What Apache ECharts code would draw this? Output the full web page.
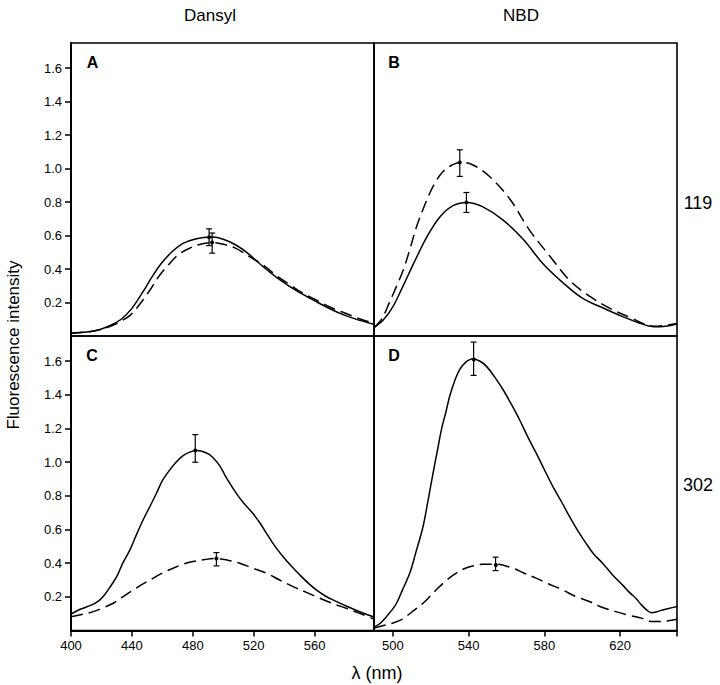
<!DOCTYPE html>
<html><head><meta charset="utf-8">
<script src="https://cdn.jsdelivr.net/npm/echarts@6/dist/echarts.min.js"></script>
<style>html,body{margin:0;padding:0;background:#fff}#c{width:720px;height:685px}</style>
</head><body><div id="c"></div>
<script>
// ---- tick labels ----
const yTicks = [0.2, 0.4, 0.6, 0.8, 1.0, 1.2, 1.4, 1.6];
const xTicksDansyl = [400, 440, 480, 520, 560];
const xTicksNBD = [500, 540, 580, 620];
const columnTitles = ['Dansyl', 'NBD'];
const rowLabels = ['119', '302'];
const panelLetters = ['A', 'B', 'C', 'D'];

// ---- Panel A (Dansyl, 119) ----
const A_solid_nm  = [400,415,425,433,440,447,453,459,466,473,480,487,493,500,508,516,526,535,543,552,561,570,580,589,599];
const A_solid_val = [0.017,0.03,0.06,0.1,0.165,0.26,0.35,0.43,0.5,0.55,0.575,0.588,0.591,0.578,0.545,0.495,0.415,0.35,0.3,0.25,0.205,0.163,0.123,0.095,0.07];
const A_dash_nm   = [400,415,425,432,439,446,452,458,465,471,478,485,493,500,508,517,526,535,544,552,561,570,579,589,599];
const A_dash_val  = [0.017,0.03,0.055,0.085,0.125,0.2,0.276,0.36,0.435,0.49,0.525,0.548,0.558,0.548,0.525,0.475,0.425,0.36,0.305,0.257,0.215,0.173,0.14,0.105,0.075];
// error bars: [nm, low, high, centre]
const A_err = [[490.7,0.54,0.64,0.59],[492.7,0.495,0.615,0.558]];

// ---- Panel B (NBD, 119) ----
const B_solid_nm  = [490,495,500,505,511,518,525,532,539,547,558,569,579,590,600,611,621,630,635,641,645,650];
const B_solid_val = [0.05,0.097,0.176,0.29,0.435,0.594,0.714,0.78,0.798,0.774,0.694,0.575,0.435,0.316,0.226,0.167,0.117,0.078,0.06,0.055,0.06,0.072];
const B_dash_nm   = [490,494,498,502,505.5,509,512.5,516,519.5,523,526.5,531,535.3,542,551,562,572,583,593,604,616,626,633,637,643,650];
const B_dash_val  = [0.05,0.1,0.196,0.3,0.395,0.52,0.654,0.76,0.854,0.93,0.983,1.02,1.037,1.023,0.953,0.814,0.634,0.475,0.336,0.236,0.157,0.107,0.07,0.058,0.062,0.075];
const B_err = [[535.3,0.953,1.112,1.037],[538.8,0.738,0.857,0.798]];

// ---- Panel C (Dansyl, 302) ----
const C_solid_nm  = [400,406,413.6,418,421,425,430,434,438.7,443,447.4,452,456.2,460,465,469,473.6,478,482.4,489,493,497.7,502,506.4,510,513,516.5,519.5,524,528.3,534,539.2,545,550.2,556,561.1,567,572,582.6,590,599];
const C_solid_val = [0.098,0.126,0.152,0.175,0.2,0.25,0.32,0.4,0.479,0.57,0.658,0.74,0.817,0.89,0.956,1.0,1.039,1.06,1.069,1.055,1.03,0.978,0.908,0.845,0.797,0.762,0.726,0.695,0.64,0.579,0.5,0.44,0.38,0.331,0.28,0.241,0.205,0.182,0.138,0.11,0.08];
const C_dash_nm   = [400,407,414.6,421,427.7,434,440.9,447,454,460,467.1,474,480.2,488,495.5,503,510.8,519,528.3,537,545.8,555,563.3,572,580.8,590,599];
const C_dash_val  = [0.082,0.095,0.112,0.135,0.162,0.2,0.241,0.276,0.311,0.342,0.37,0.395,0.41,0.422,0.428,0.418,0.4,0.372,0.341,0.3,0.261,0.225,0.192,0.16,0.132,0.1,0.068];
const C_err = [[481.6,1.0,1.164,1.069],[495.5,0.384,0.463,0.428]];

// ---- Panel D (NBD, 302) ----
const D_solid_nm  = [490,493,496,499,501.9,505,508.9,512,515.9,518.5,521.2,523.5,525.6,528,530,532.5,535.3,538.5,542.3,546,549.3,553.5,558.1,562.5,566.8,571,575.6,580,584.4,589,593.2,597.5,601.9,606,610.7,616,621.2,625,628.2,631,634.4,636.5,639,642.3,646,650];
const D_solid_val = [0.02,0.04,0.075,0.115,0.162,0.24,0.341,0.46,0.618,0.77,0.936,1.07,1.194,1.3,1.393,1.48,1.551,1.595,1.615,1.6,1.571,1.51,1.432,1.345,1.254,1.155,1.055,0.955,0.857,0.765,0.678,0.595,0.519,0.455,0.4,0.33,0.271,0.225,0.192,0.155,0.118,0.106,0.11,0.122,0.132,0.142];
const D_dash_nm   = [490,495,500,505,510,515.9,521,526.5,532,537,542,547.5,554.6,563.3,569,575.6,582,589.6,596,603.7,610,617.7,624,631.7,637,643,650];
const D_dash_val  = [0.015,0.03,0.045,0.068,0.11,0.162,0.22,0.281,0.33,0.364,0.383,0.394,0.394,0.37,0.342,0.311,0.278,0.241,0.205,0.172,0.14,0.112,0.092,0.072,0.053,0.055,0.067];
const D_err = [[542.6,1.516,1.714,1.615],[554.2,0.356,0.436,0.394]];

// ---- build ----
const FONT = "'Liberation Sans', Arial, Helvetica, sans-serif";
const zip = (a, b) => a.map((v, i) => [v, b[i]]);
const grids = [
  {left: 71,  top: 43,  width: 303, height: 293},
  {left: 374, top: 43,  width: 303, height: 293},
  {left: 71,  top: 336, width: 303, height: 294.5},
  {left: 374, top: 336, width: 303, height: 294.5}
].map(g => Object.assign({show: true, borderColor: '#000', borderWidth: 1.6, backgroundColor: 'transparent'}, g));

function xAx(gi, min, max, ticks, labels) {
  const shown = !!labels;
  return {
    type: 'value', gridIndex: gi, min: min, max: max,
    axisLine: {show: shown, onZero: false, lineStyle: {color: '#000', width: 2}},
    axisTick: {show: shown, length: 6, customValues: ticks || [], lineStyle: {color: '#000', width: 1.5}},
    axisLabel: {show: shown, customValues: labels || [], color: '#000', fontSize: 13, margin: 8, fontFamily: FONT},
    splitLine: {show: false}
  };
}
function yAx(gi, shown) {
  return {
    type: 'value', gridIndex: gi, min: 0, max: 1.75,
    axisLine: {show: shown, lineStyle: {color: '#000', width: 2}},
    axisTick: {show: shown, length: 6, customValues: yTicks, lineStyle: {color: '#000', width: 1.5}},
    axisLabel: {show: shown, customValues: yTicks, color: '#000', fontSize: 13, margin: 9, fontFamily: FONT,
                formatter: v => v.toFixed(1)},
    splitLine: {show: false}
  };
}
const xAxes = [
  xAx(0, 400, 599),
  xAx(1, 490, 650),
  xAx(2, 400, 599, xTicksDansyl, xTicksDansyl),
  xAx(3, 490, 650, xTicksNBD.concat([650]), xTicksNBD)
];
const yAxes = [yAx(0, true), yAx(1, false), yAx(2, true), yAx(3, false)];

function lineSeries(gi, nm, val, dashed) {
  return {
    type: 'line', xAxisIndex: gi, yAxisIndex: gi, data: zip(nm, val),
    showSymbol: false, smooth: 0.35, silent: true,
    lineStyle: {color: '#000', width: 1.5, type: dashed ? [12, 6] : 'solid'}
  };
}
function errRender(params, api) {
  const x = api.value(0), lo = api.value(1), hi = api.value(2), c = api.value(3);
  const pL = api.coord([x, lo]), pH = api.coord([x, hi]), pC = api.coord([x, c]);
  const w = 3, st = {stroke: '#000', lineWidth: 1.2};
  return {type: 'group', children: [
    {type: 'line', shape: {x1: pL[0], y1: pL[1], x2: pH[0], y2: pH[1]}, style: st},
    {type: 'line', shape: {x1: pL[0] - w, y1: pL[1], x2: pL[0] + w, y2: pL[1]}, style: st},
    {type: 'line', shape: {x1: pH[0] - w, y1: pH[1], x2: pH[0] + w, y2: pH[1]}, style: st},
    {type: 'circle', shape: {cx: pC[0], cy: pC[1], r: 2}, style: {fill: '#000'}}
  ]};
}
function errSeries(gi, data) {
  return {type: 'custom', xAxisIndex: gi, yAxisIndex: gi, data: data, renderItem: errRender,
          encode: {x: 0, y: [1, 2, 3]}, silent: true, z: 5};
}
const series = [
  lineSeries(0, A_solid_nm, A_solid_val, false), lineSeries(0, A_dash_nm, A_dash_val, true), errSeries(0, A_err),
  lineSeries(1, B_solid_nm, B_solid_val, false), lineSeries(1, B_dash_nm, B_dash_val, true), errSeries(1, B_err),
  lineSeries(2, C_solid_nm, C_solid_val, false), lineSeries(2, C_dash_nm, C_dash_val, true), errSeries(2, C_err),
  lineSeries(3, D_solid_nm, D_solid_val, false), lineSeries(3, D_dash_nm, D_dash_val, true), errSeries(3, D_err)
];

function txt(s, x, y, size, weight, rot) {
  return {type: 'text', x: x, y: y, rotation: rot || 0, silent: true,
          style: {text: s, x: 0, y: 0, align: 'center', verticalAlign: 'middle', fill: '#000',
                  font: (weight || 'normal') + ' ' + size + 'px ' + FONT}};
}
const graphic = [
  txt(columnTitles[0], 210, 15, 17),
  txt(columnTitles[1], 521, 15, 17),
  txt(rowLabels[0], 698, 203, 18),
  txt(rowLabels[1], 698, 485, 18),
  txt(panelLetters[0], 92.5, 62, 16, 'bold'),
  txt(panelLetters[1], 394, 62, 16, 'bold'),
  txt(panelLetters[2], 92, 355, 16, 'bold'),
  txt(panelLetters[3], 394, 355, 16, 'bold'),
  txt('Fluorescence intensity', 13, 345, 17, 'normal', Math.PI / 2),
  txt('λ (nm)', 377, 673, 18)
];

const chart = echarts.init(document.getElementById('c'), null, {renderer: 'svg'});
chart.setOption({
  animation: false, backgroundColor: '#fff',
  grid: grids, xAxis: xAxes, yAxis: yAxes, series: series, graphic: graphic
});
</script></body></html>
